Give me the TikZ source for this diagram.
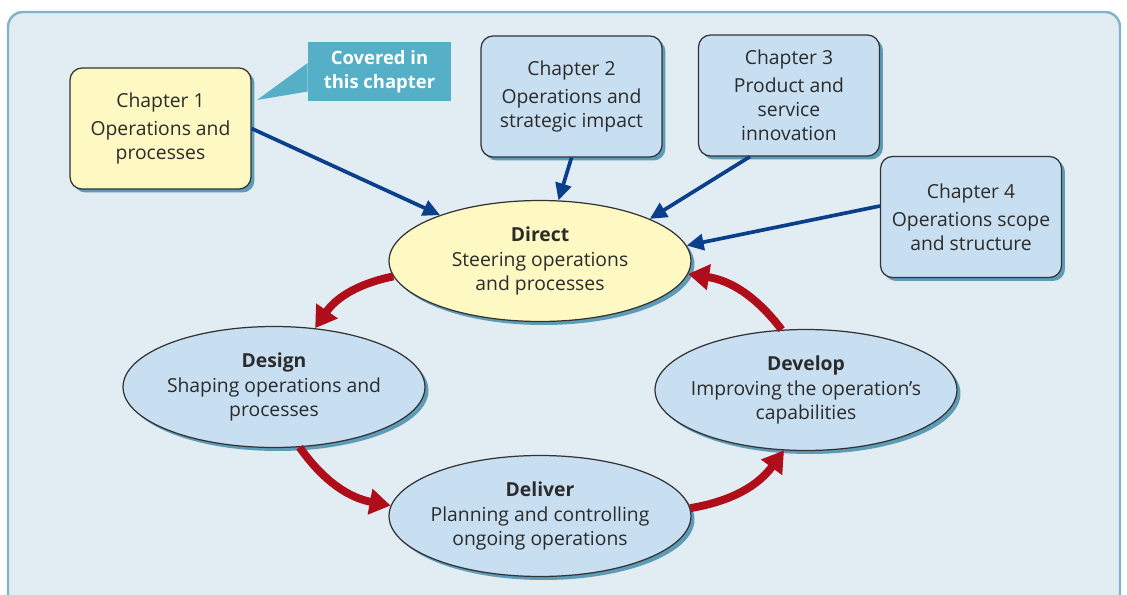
\documentclass[tikz,border=0pt]{standalone}
\usepackage{fontspec}
\setmainfont{Open Sans}
\usetikzlibrary{shapes.geometric,shadows,arrows.meta}

\definecolor{framefill}{HTML}{E1ECF3}
\definecolor{frameline}{HTML}{80B3CC}
\definecolor{chapblue}{HTML}{C8DFF2}
\definecolor{chapyellow}{HTML}{FEF9C2}
\definecolor{shadowblue}{HTML}{5D9BB7}
\definecolor{callteal}{HTML}{55B0C7}
\definecolor{linkblue}{HTML}{0A3F8C}
\definecolor{cyclered}{HTML}{B00D1A}
\definecolor{inktext}{HTML}{2B2B2B}

\tikzstyle{frame}=[fill=framefill, draw=frameline, line width=1.4pt, rounded corners=0.3cm]
\tikzstyle{chap}=[rectangle, rounded corners=0.24cm, draw=black!80, line width=0.7pt, minimum width=3.62cm, minimum height=2.42cm, align=center, text=inktext, font=\fontsize{11}{13.8}\selectfont, drop shadow={shadow xshift=0.07cm, shadow yshift=-0.07cm, fill=shadowblue, opacity=1}]
\tikzstyle{stage}=[ellipse, draw=black!80, line width=0.7pt, minimum width=6.04cm, minimum height=2.42cm, inner sep=0pt, inner xsep=-0.1cm, align=center, text=inktext, font=\fontsize{11}{13.9}\selectfont, drop shadow={shadow xshift=0.07cm, shadow yshift=-0.07cm, fill=shadowblue, opacity=1}]
\tikzstyle{callout}=[rectangle, fill=callteal, minimum width=2.86cm, minimum height=1.18cm, align=center, text=white, font=\fontsize{10.5}{13.6}\selectfont\bfseries]
\tikzstyle{link}=[draw=linkblue, line width=2.1pt, -{Triangle[length=0.34cm,width=0.32cm]}]
\tikzstyle{turn}=[draw=cyclered, line width=4.5pt, -{Triangle[length=0.42cm,width=0.5cm]}, bend right=22]

\begin{document}
\begin{tikzpicture}[x=0.02cm, y=-0.02cm]
        \useasboundingbox (0,0) rectangle (1127,595);
        \draw[frame] (8,12) rectangle (1120,640);
        %
        \draw (160.5,128.5) node[chap,fill=chapyellow](c1){Chapter 1\\[2pt]Operations and\\processes};
        \draw (571.5,96.5) node[chap,fill=chapblue](c2){Chapter 2\\[2pt]Operations and\\strategic impact};
        \draw (789,95.5) node[chap,fill=chapblue](c3){Chapter 3\\[2pt]Product and\\service\\innovation};
        \draw (971,217) node[chap,fill=chapblue](c4){Chapter 4\\[2pt]Operations scope\\and structure};
        %
        \draw (379.5,71.5) node[callout](call){Covered in\\this chapter};
        \coordinate (tip) at (257,100);
        \fill[callteal] ([yshift=0.17cm]call.west) -- (tip) -- ([yshift=-0.4cm]call.west) -- cycle;
        %
        \draw (540,261) node[stage,fill=chapyellow](direct){\textbf{Direct}\\Steering operations\\and processes};
        \draw (274,387) node[stage,fill=chapblue](design){\textbf{Design}\\Shaping operations and\\processes};
        \draw (540,516) node[stage,fill=chapblue](deliver){\textbf{Deliver}\\Planning and controlling\\ongoing operations};
        \draw (806,390) node[stage,fill=chapblue,inner xsep=-0.2cm](develop){\textbf{Develop}\\Improving the operation's\\capabilities};
        %
        \path
            (c1.east)                     edge[link]     (direct)
            (c2.south)                    edge[link]     (direct)
            ([xshift=-0.78cm]c3.south)    edge[link]     (direct.21)
            ([yshift=0.22cm]c4.west)      edge[link]     (direct.6)
            (direct.186)                  edge[turn]     (design.55)
            (design.-67)                  edge[turn]     (deliver.176)
            (deliver.3)                   edge[turn]     (develop.-110)
            (develop.112)                 edge[turn]     (direct.-5)
        ;
        %;
\end{tikzpicture}
\end{document}
